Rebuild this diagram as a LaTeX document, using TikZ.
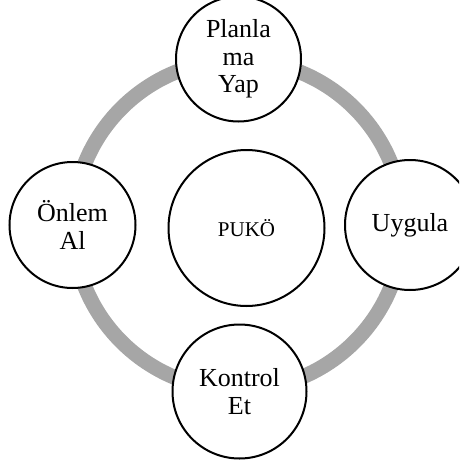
\documentclass[tikz,border=0pt]{standalone}
\usepackage{fontspec}
\setmainfont{Liberation Serif}
\definecolor{ringgray}{HTML}{A6A6A6}
\begin{document}
\begin{tikzpicture}[x=1pt,y=-1pt,
  stage/.style={circle,draw=black,line width=2pt,fill=white,inner sep=0pt,
    align=center,font=\fontsize{26}{27.5}\selectfont},
  hub/.style={circle,draw=black,line width=2pt,fill=white,inner sep=0pt,
    font=\fontsize{21}{24}\selectfont}]
\clip (0,0) rectangle (459,466);
\useasboundingbox (0,0) rectangle (459,466);
\coordinate (ringc) at (238,225);
\draw[ringgray,line width=15pt] (ringc) circle[radius=165];
\node[hub,minimum size=156] (puko) at (246.5,228) {PUKÖ};
\node[stage,minimum size=125] (plan) at (238.5,59) {Planla\\ma\\Yap};
\node[stage,minimum size=130] (uyg) at (410,225) {Uygula};
\node[stage,minimum size=134] (kon) at (239.5,391.5) {Kontrol\\Et};
\node[stage,minimum size=126] (onl) at (72.5,225) {Önlem\\Al};
\end{tikzpicture}
\end{document}
